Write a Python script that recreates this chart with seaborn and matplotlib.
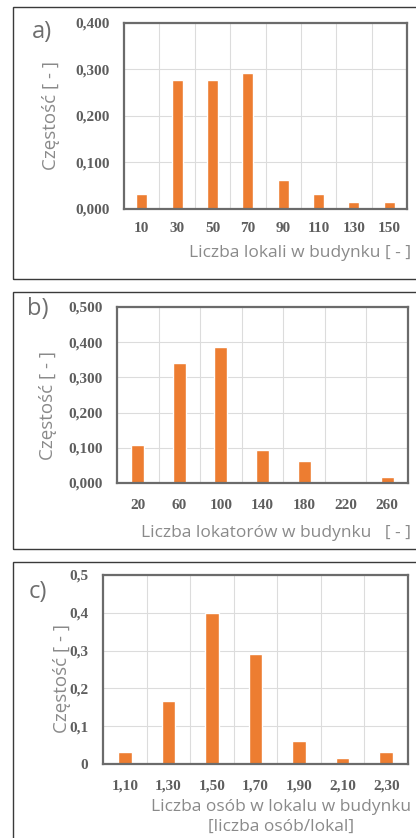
import matplotlib
matplotlib.use("Agg")
import matplotlib.pyplot as plt
import matplotlib.patches as patches
from matplotlib.ticker import FuncFormatter, MultipleLocator
import pandas as pd
import seaborn as sns

# -------------------------
# DATA
# -------------------------
lokale_kat = ["10", "30", "50", "70", "90", "110", "130", "150"]
lokale_czest = [0.032, 0.278, 0.278, 0.293, 0.063, 0.032, 0.016, 0.016]

lokatorzy_kat = ["20", "60", "100", "140", "180", "220", "260"]
lokatorzy_czest = [0.109, 0.340, 0.387, 0.095, 0.062, 0.0, 0.017]

osoby_kat = ["1,10", "1,30", "1,50", "1,70", "1,90", "2,10", "2,30"]
osoby_czest = [0.031, 0.167, 0.400, 0.292, 0.060, 0.015, 0.031]

ORANGE = "#ED7D31"
W, H = 416, 838

sns.set_style("white")
plt.rcParams["font.family"] = ["Open Sans", "DejaVu Sans"]

fig = plt.figure(figsize=(W / 100, H / 100), dpi=100)


def px_ax(l, r, t, b):
    return fig.add_axes([l / W, 1 - b / H, (r - l) / W, (b - t) / H])


def frame(l, t, b):
    fig.patches.append(patches.Rectangle((l / W, 1 - b / H), (430 - l) / W, (b - t) / H,
                                         transform=fig.transFigure, fill=False,
                                         edgecolor="#3a3a3a", linewidth=1.0))


def fmt3(v, pos):
    return f"{v:.3f}".replace(".", ",")


def fmt1(v, pos):
    if abs(v) < 1e-9:
        return "0"
    return f"{v:.1f}".replace(".", ",")


def panel(ax, kat, vals, ymax, fmt, xpad, ypad):
    df = pd.DataFrame({"kat": kat, "czest": vals})
    sns.barplot(data=df, x="kat", y="czest", order=kat, color=ORANGE,
                saturation=1, width=0.31, ax=ax)
    n = len(kat)
    ax.set_xlim(-0.5, n - 0.5)
    ax.set_ylim(0, ymax)
    ax.yaxis.set_major_locator(MultipleLocator(0.1))
    ax.yaxis.set_major_formatter(FuncFormatter(fmt))
    ax.set_xticks([i + 0.5 for i in range(n - 1)], minor=True)
    ax.grid(True, which="minor", axis="x", color="#dcdcdc", linewidth=0.8)
    ax.grid(True, which="major", axis="y", color="#dcdcdc", linewidth=0.8)
    ax.set_axisbelow(True)
    ax.tick_params(axis="both", which="both", length=0)
    ax.tick_params(axis="x", pad=xpad)
    ax.tick_params(axis="y", pad=ypad)
    for lab in ax.get_xticklabels() + ax.get_yticklabels():
        lab.set_family(["Liberation Serif", "DejaVu Serif"])
        lab.set_fontsize(11)
        lab.set_color("#5e5e5e")
        lab.set_fontweight("bold")
    for s in ax.spines.values():
        s.set_color("#6b6b6b")
        s.set_linewidth(1.6)
    ax.set_xlabel("")
    ax.set_ylabel("")


XLAB = dict(color="#8a8a8a", fontsize=12.5)
YLAB = dict(color="#8a8a8a", fontsize=13.5)
PLAB = dict(color="#6e6e6e", fontsize=17)

# a)
frame(13, 7, 279)
ax_a = px_ax(124, 407, 23, 209)
panel(ax_a, lokale_kat, lokale_czest, 0.4, fmt3, 9.5, 10)
fig.text(42 / W, 1 - 32 / H, "a)", ha="center", va="center", **PLAB)
fig.text(51 / W, 1 - 116 / H, "Częstość [ - ]", rotation=90, ha="center", va="center", **YLAB)
fig.text(411 / W, 1 - 253 / H, "Liczba lokali w budynku [ - ]", ha="right", va="center", **XLAB)

# b)
frame(13, 292, 549)
ax_b = px_ax(117, 408, 307, 483)
panel(ax_b, lokatorzy_kat, lokatorzy_czest, 0.5, fmt3, 11.5, 10.5)
fig.text(38 / W, 1 - 309 / H, "b)", ha="center", va="center", **PLAB)
fig.text(48 / W, 1 - 405 / H, "Częstość [ - ]", rotation=90, ha="center", va="center", **YLAB)
fig.text(411 / W, 1 - 533 / H, "Liczba lokatorów w budynku   [ - ]", ha="right", va="center", **XLAB)

# c)
frame(13, 562, 850)
ax_c = px_ax(103, 408, 575, 764)
panel(ax_c, osoby_kat, osoby_czest, 0.5, fmt1, 11.5, 10.5)
fig.text(38 / W, 1 - 592 / H, "c)", ha="center", va="center", **PLAB)
fig.text(62 / W, 1 - 678 / H, "Częstość [ - ]", rotation=90, ha="center", va="center", **YLAB)
fig.text(281 / W, 1 - 807 / H, "Liczba osób w lokalu w budynku", ha="center", va="center", **XLAB)
fig.text(281 / W, 1 - 827 / H, "[liczba osób/lokal]", ha="center", va="center", **XLAB)

fig.savefig("out.png", dpi=100, facecolor="white")
